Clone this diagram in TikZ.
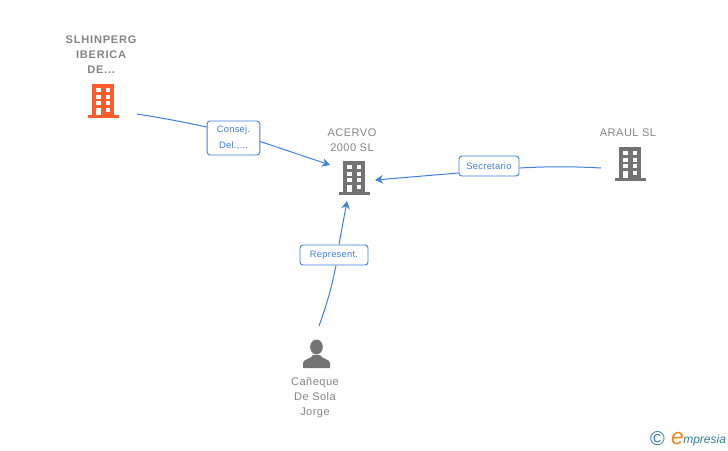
\documentclass[tikz,border=0pt]{standalone}
\usepackage{fontspec}
\setmainfont{Liberation Sans}
\newfontfamily\namefont[LetterSpace=4]{Liberation Sans}
\newfontfamily\boldnamefont[LetterSpace=7]{Liberation Sans}
\newfontfamily\rolefont[LetterSpace=3]{Liberation Sans}
\usetikzlibrary{arrows.meta}
\definecolor{flowblue}{HTML}{3F7FDD}
\definecolor{icongray}{HTML}{737373}
\definecolor{textgray}{HTML}{858585}
\definecolor{iconorange}{HTML}{FF5C2E}
\definecolor{logoteal}{HTML}{2F7F96}
\definecolor{logoorange}{HTML}{F0861E}
\tikzset{
  pics/buildingicon/.style={code={
    \fill[#1] (-11,-17) rectangle (11,14);
    \fill[#1] (-15.5,14) rectangle (15.5,16.5);
    \foreach \rowy in {-13,-6.5,0}{
      \fill[white] (-7,\rowy) rectangle (-2.5,\rowy+4);
      \fill[white] (2.5,\rowy) rectangle (7,\rowy+4);
    }
    \fill[white] (-7,6.5) rectangle (-2.5,14);
    \fill[white] (2.5,6.5) rectangle (7,10.5);
  }},
  pics/personicon/.style={code={
    \fill[#1] (0,-21) ellipse (6.3 and 7.5);
    \fill[#1] (-13.5,0) -- (-13.5,-5) .. controls (-13.5,-9) and (-5,-9) .. (-3.5,-13)
      -- (3.5,-13) .. controls (5,-9) and (13.5,-9) .. (13.5,-5) -- (13.5,0) -- cycle;
  }},
  namelabel/.style={text=textgray, font=\namefont\fontsize{8.3}{11.2}\selectfont, align=center, inner sep=0pt},
  rolebox/.style={draw=flowblue, line width=0.7pt, rounded corners=2.2pt, fill=white, text=flowblue,
    font=\rolefont\fontsize{7}{12}\selectfont, align=center, inner sep=0pt},
  flowline/.style={draw=flowblue, line width=0.75pt},
  flowarrow/.style={flowline, -{Stealth[length=6pt, width=6.5pt, inset=2pt]}}
}
\begin{document}
\begin{tikzpicture}[x=0.75pt, y=-0.75pt]
\useasboundingbox (0,0) rectangle (728,450);
% icons
\pic at (103,101) {buildingicon=iconorange};
\pic at (354,178) {buildingicon=icongray};
\pic at (630,164) {buildingicon=icongray};
\pic at (316.5,368) {personicon=icongray};
% names
\node[namelabel, font=\boldnamefont\fontsize{8.3}{11.2}\selectfont] (slhinperg) at (101.5,55) {\textbf{SLHINPERG}\\\textbf{IBERICA}\\\textbf{DE...}};
\node[namelabel] (acervo) at (352,140) {ACERVO\\2000 SL};
\node[namelabel] (araul) at (628,133) {ARAUL SL};
\node[namelabel] (caneque) at (315,398) {Cañeque\\De Sola\\Jorge};
% roles
\node[rolebox, minimum width=39.5pt, minimum height=25.5pt] (consej) at (233.5,138) {Consej.\\Del.,...};
\node[rolebox, minimum width=45pt, minimum height=15pt] (secretario) at (489,166) {Secretario};
\node[rolebox, minimum width=51pt, minimum height=15pt] (represent) at (334,255) {Represent.};
% free ends
\coordinate (fromslh) at (137,114);
\coordinate (toacervow) at (330,165);
\coordinate (fromaraul) at (601,168);
\coordinate (toacervoe) at (375,180);
\coordinate (fromcan) at (319,326);
\coordinate (toacervos) at (347,201);
% connectors
\draw[flowline] (fromslh) to[bend left=1.5] (consej.west |- 0,127);
\draw[flowarrow] (consej.east |- 0,141.5) -- (toacervow);
\draw[flowline] (fromaraul) to[bend right=3] (secretario.east |- 0,168);
\draw[flowarrow] (secretario.west |- 0,173) -- (toacervoe);
\draw[flowline] (fromcan) to[bend right=4] (represent.south -| 336,0);
\draw[flowarrow] (represent.north -| 339,0) -- (toacervos);
% logo
\node[inner sep=0pt, text=logoteal, font=\fontsize{15}{15}\selectfont] (copyr) at (657.5,438.5) {©};
\node[inner sep=0pt, anchor=base west, font=\fontsize{9}{10}\selectfont\itshape, text=logoteal] (logotext) at (683,443) {mpresia};
\node[inner sep=0pt, anchor=base east, font=\fontsize{17}{17}\selectfont\itshape, text=logoorange] (logoe) at (684,444) {e};
\end{tikzpicture}
\end{document}
